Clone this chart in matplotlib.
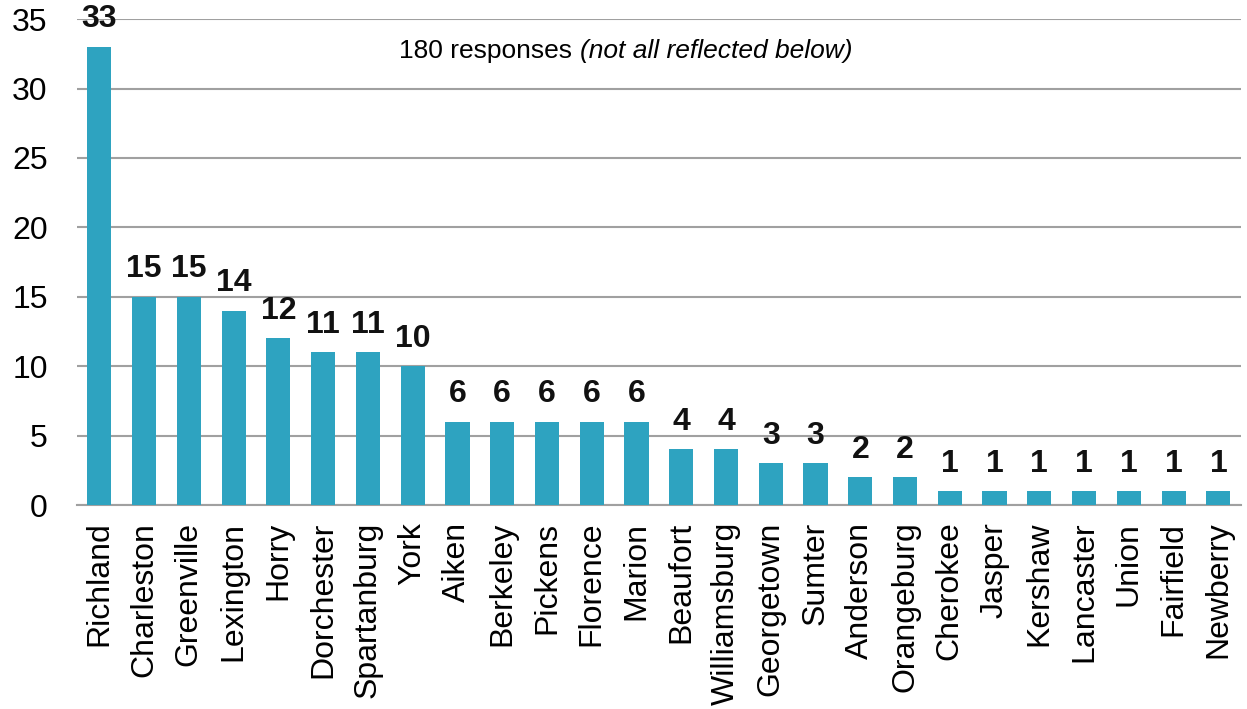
import matplotlib

matplotlib.use("Agg")
import matplotlib.pyplot as plt
import numpy as np

COUNTIES = [
    "Richland", "Charleston", "Greenville", "Lexington", "Horry", "Dorchester",
    "Spartanburg", "York", "Aiken", "Berkeley", "Pickens", "Florence", "Marion",
    "Beaufort", "Williamsburg", "Georgetown", "Sumter", "Anderson", "Orangeburg",
    "Cherokee", "Jasper", "Kershaw", "Lancaster", "Union", "Fairfield", "Newberry",
]
COUNTS = [33, 15, 15, 14, 12, 11, 11, 10, 6, 6, 6, 6, 6, 4, 4, 3, 3, 2, 2,
          1, 1, 1, 1, 1, 1, 1]
Y_TICKS = [0, 5, 10, 15, 20, 25, 30, 35]

plt.rcParams["font.family"] = ["Liberation Sans", "DejaVu Sans"]

fig = plt.figure(figsize=(12.47, 7.09), dpi=100)
ax = fig.add_axes([0.0617, 0.2877, 0.9333, 0.6853])

x = np.arange(len(COUNTIES))
bars = ax.bar(x, COUNTS, width=0.54, color="#2ea3c0", zorder=3)

for bar, val in zip(bars, COUNTS):
    ax.annotate(str(val), xy=(bar.get_x() + bar.get_width() / 2, val),
                xytext=(0, 9), textcoords="offset points",
                ha="center", va="bottom", fontsize=23, fontweight="bold",
                color="#111111", zorder=4)

ax.set_xlim(-0.5, len(COUNTIES) - 0.5)
ax.set_ylim(0, 35)
ax.set_yticks(Y_TICKS)
ax.set_xticks(x)
ax.set_xticklabels(COUNTIES, rotation=90, fontsize=23)
ax.tick_params(axis="y", labelsize=23, length=0, pad=21)
ax.tick_params(axis="x", length=0, pad=12)
ax.grid(True, axis="y", color="#a0a0a0", linewidth=1.5, zorder=0)
for side in ["top", "right", "left"]:
    ax.spines[side].set_visible(False)
ax.spines["bottom"].set_color("#a0a0a0")
ax.spines["bottom"].set_linewidth(1.5)

ax.text(0.432, 0.935, "180 responses ", transform=ax.transAxes,
        ha="right", va="center", fontsize=19)
ax.text(0.432, 0.935, "(not all reflected below)", transform=ax.transAxes,
        ha="left", va="center", fontsize=19, fontstyle="italic")

fig.savefig("out.png", dpi=100)
